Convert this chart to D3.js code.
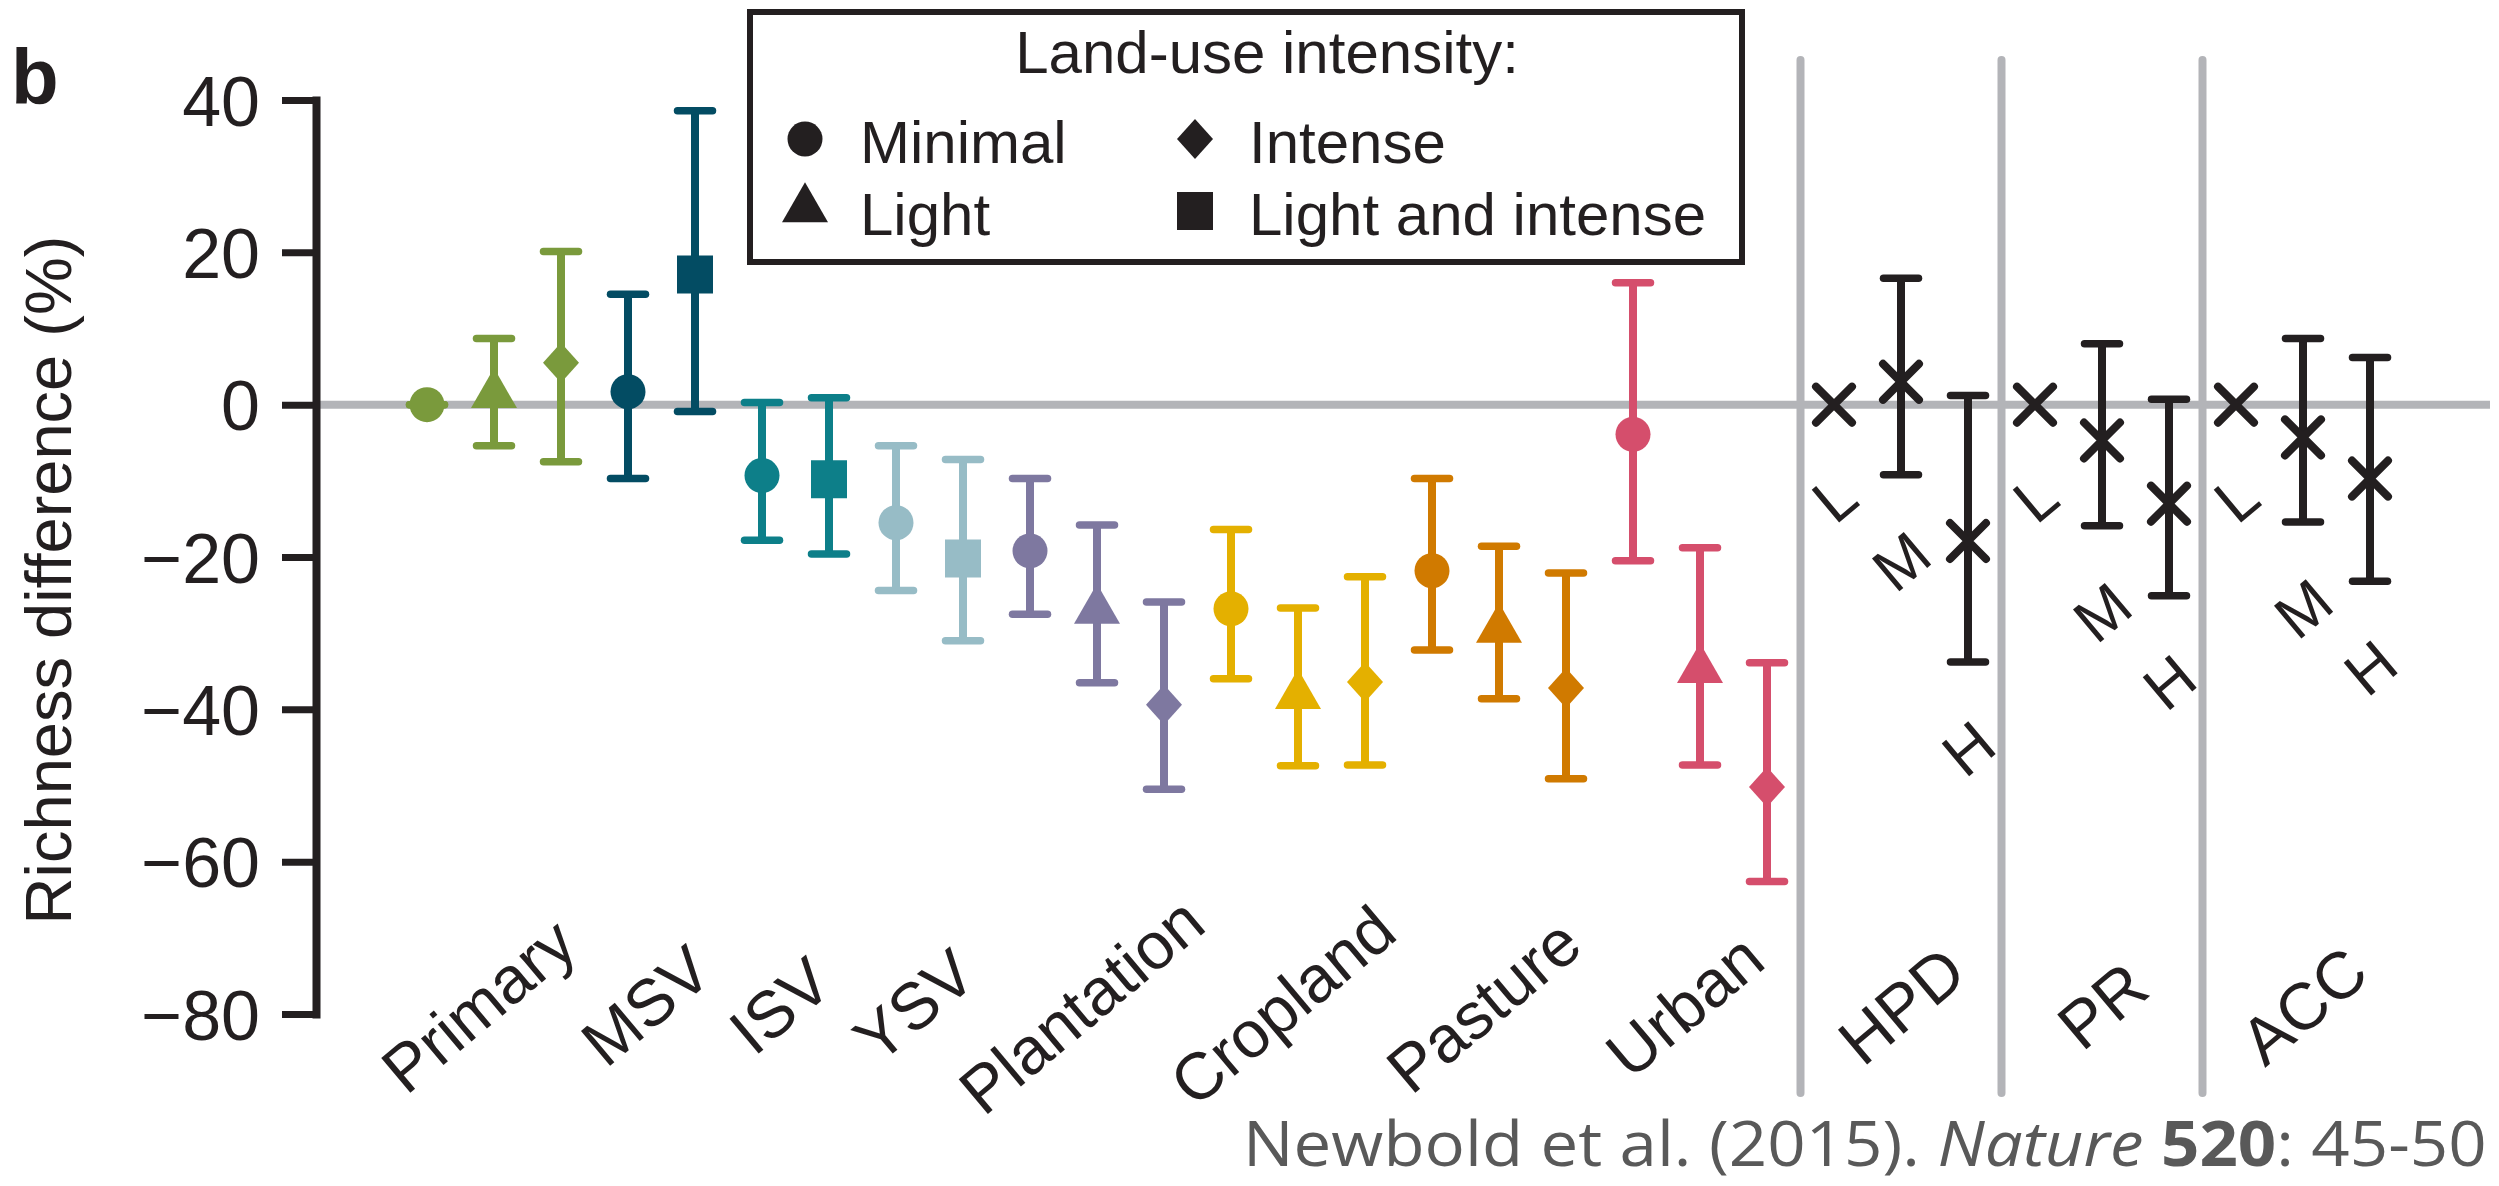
<!DOCTYPE html>
<html>
<head>
<meta charset="utf-8">
<script src="https://cdn.jsdelivr.net/npm/d3@7"></script>
<style>
  body { margin: 0; background: #fff; }
  svg { display: block; }
  text { font-family: "Liberation Sans", Arial, Helvetica, sans-serif; fill: #231f20; }
</style>
</head>
<body>
<svg id="chart" width="2499" height="1186"></svg>
<script>
// Richness difference (%) by land use / intensity, and by the L/M/H levels of three pressures.
const categories = [
  "Primary", "Primary", "Primary",
  "MSV", "MSV",
  "ISV", "ISV",
  "YSV", "YSV",
  "Plantation", "Plantation", "Plantation",
  "Cropland", "Cropland", "Cropland",
  "Pasture", "Pasture", "Pasture",
  "Urban", "Urban", "Urban",
  "HPD", "HPD", "HPD",
  "PR", "PR", "PR",
  "ACC", "ACC", "ACC"
];
const levels = [
  "Minimal", "Light", "Intense",
  "Minimal", "Light and intense",
  "Minimal", "Light and intense",
  "Minimal", "Light and intense",
  "Minimal", "Light", "Intense",
  "Minimal", "Light", "Intense",
  "Minimal", "Light", "Intense",
  "Minimal", "Light", "Intense",
  "L", "M", "H",
  "L", "M", "H",
  "L", "M", "H"
];
const estimate = [
  0, 1.3, 5.5,
  1.7, 17.1,
  -9.3, -9.8,
  -15.5, -20.2,
  -19.2, -27, -39.4,
  -26.8, -38.2, -36.4,
  -21.8, -29.5, -37.2,
  -3.9, -34.8, -50.2,
  0, 3.0, -17.9,
  0, -4.7, -13.0,
  0, -4.3, -9.7
];
const lower = [
  0, -5.4, -7.5,
  -9.7, -0.9,
  -17.8, -19.6,
  -24.4, -31.0,
  -27.5, -36.5, -50.5,
  -36.0, -47.4, -47.3,
  -32.2, -38.6, -49.1,
  -20.5, -47.3, -62.6,
  null, -9.2, -33.8,
  null, -15.9, -25.1,
  null, -15.4, -23.2
];
const upper = [
  0, 8.7, 20.1,
  14.5, 38.6,
  0.3, 0.9,
  -5.4, -7.2,
  -9.7, -15.8, -25.9,
  -16.4, -26.7, -22.6,
  -9.7, -18.6, -22.1,
  16.0, -18.8, -33.9,
  null, 16.6, 1.2,
  null, 8.0, 0.7,
  null, 8.7, 6.2
];
const yTicks = [40, 20, 0, -20, -40, -60, -80];
const pressureGroups = ["HPD", "PR", "ACC"];
const legendLevels = ["Minimal", "Intense", "Light", "Light and intense"];

// Styling
const ink = "#231f20";
const rule = "#b3b4b8";
const groupColor = {
  Primary: "#7a9a3c", MSV: "#034c63", ISV: "#0d7f89", YSV: "#97bcc6",
  Plantation: "#7e78a0", Cropland: "#e4b000", Pasture: "#d07a00", Urban: "#d54e6c",
  HPD: ink, PR: ink, ACC: ink
};

const svg = d3.select("#chart");
svg.append("rect").attr("width", 2499).attr("height", 1186).attr("fill", "#fff");

const slots = d3.range(categories.length);
const x = d3.scalePoint().domain(slots).range([427, 2370]);
const y = d3.scaleLinear().domain([-80, 40]).range([1014, 100]);
const axisX = 316;

// Marker shapes, centred on (0,0)
function shapePath(level, s = 1) {
  if (level === "Light") {
    const w = 46 * s, h = 40 * s;
    return `M0,${-2 * h / 3}L${w / 2},${h / 3}L${-w / 2},${h / 3}Z`;
  }
  if (level === "Intense") {
    const w = 18 * s, h = 20 * s;
    return `M0,${-h}L${w},0L0,${h}L${-w},0Z`;
  }
  if (level === "Light and intense") {
    const w = 18 * s, h = 19 * s;
    return `M${-w},${-h}H${w}V${h}H${-w}Z`;
  }
  if (level === "Minimal") {
    const r = 17.5 * s;
    return `M${r},0A${r},${r} 0 1 1 ${-r},0A${r},${r} 0 1 1 ${r},0Z`;
  }
  const a = 18 * s;
  return `M${-a},${-a}L${a},${a}M${-a},${a}L${a},${-a}`;
}
const isCross = l => l === "L" || l === "M" || l === "H";

// Group separators for the pressure panels
const sepG = svg.append("g");
pressureGroups.forEach(g => {
  const first = categories.indexOf(g);
  const sx = (x(first) + x(first - 1)) / 2;
  sepG.append("line")
    .attr("x1", sx).attr("x2", sx).attr("y1", 60).attr("y2", 1093)
    .attr("stroke", rule).attr("stroke-width", 8).attr("stroke-linecap", "round");
});

// Zero reference line
svg.append("line")
  .attr("x1", axisX).attr("x2", 2490).attr("y1", y(0)).attr("y2", y(0))
  .attr("stroke", rule).attr("stroke-width", 8);

// Y axis
const yAxis = d3.axisLeft(y)
  .tickValues(yTicks)
  .tickSize(34)
  .tickSizeOuter(0)
  .tickPadding(22)
  .tickFormat(d => d < 0 ? "\u2212" + (-d) : String(d));
const ag = svg.append("g").attr("transform", `translate(${axisX},0)`).call(yAxis);
ag.select(".domain").attr("stroke", ink).attr("stroke-width", 8).attr("stroke-linecap", "square");
ag.selectAll(".tick line").attr("stroke", ink).attr("stroke-width", 7);
ag.selectAll(".tick text")
  .attr("fill", ink)
  .style("font-family", '"Liberation Sans", Arial, sans-serif')
  .style("font-size", "70px")
  .attr("dy", "0.36em");

// Axis title
svg.append("text")
  .attr("transform", "translate(71,580) rotate(-90)")
  .attr("text-anchor", "middle")
  .style("font-size", "65px")
  .text("Richness difference (%)");

// Panel letter
svg.append("text")
  .attr("x", 11).attr("y", 104)
  .style("font-size", "78px").style("font-weight", "bold")
  .text("b");

// Error bars and markers
const pts = slots.map(i => ({
  i, cat: categories[i], level: levels[i],
  est: estimate[i], lo: lower[i], hi: upper[i]
}));
const pg = svg.append("g");
pts.forEach(p => {
  const col = groupColor[p.cat];
  const cx = x(p.i);
  const g = pg.append("g");
  if (p.lo !== null && p.hi !== null) {
    g.append("line")
      .attr("x1", cx).attr("x2", cx).attr("y1", y(p.lo)).attr("y2", y(p.hi))
      .attr("stroke", col).attr("stroke-width", 8);
    [p.lo, p.hi].forEach(v => {
      g.append("line")
        .attr("x1", cx - 17.5).attr("x2", cx + 17.5).attr("y1", y(v)).attr("y2", y(v))
        .attr("stroke", col).attr("stroke-width", 7.5).attr("stroke-linecap", "round");
    });
  }
  const m = g.append("path")
    .attr("transform", `translate(${cx},${y(p.est)})`)
    .attr("d", shapePath(p.level));
  if (isCross(p.level)) {
    m.attr("fill", "none").attr("stroke", col).attr("stroke-width", 8).attr("stroke-linecap", "round");
  } else {
    m.attr("fill", col);
  }
});

// L / M / H labels under the pressure estimates
pts.filter(p => isCross(p.level)).forEach(p => {
  const base = p.lo !== null ? y(p.lo) + 86 : y(p.est) + 93;
  svg.append("text")
    .attr("transform", `translate(${x(p.i)},${base}) rotate(-40)`)
    .attr("text-anchor", "middle")
    .attr("dy", "0.36em")
    .style("font-size", "62px")
    .text(p.level);
});

// Category labels
const groups = Array.from(new Set(categories));
groups.forEach(g => {
  const idx = slots.filter(i => categories[i] === g);
  const cx = d3.mean(idx, i => x(i)) + (pressureGroups.includes(g) ? 0 : -16);
  svg.append("text")
    .attr("transform", `translate(${cx},1005) rotate(-40)`)
    .attr("text-anchor", "middle")
    .attr("dy", "0.36em")
    .style("font-size", "66px")
    .text(g);
});

// Legend
const lg = svg.append("g");
lg.append("rect")
  .attr("x", 750).attr("y", 12).attr("width", 992).attr("height", 250)
  .attr("fill", "#fff").attr("stroke", ink).attr("stroke-width", 6);
lg.append("text")
  .attr("x", 1267).attr("y", 73).attr("text-anchor", "middle")
  .style("font-size", "60px")
  .text("Land-use intensity:");
const legendPos = {
  "Minimal": [805, 139, 860, 163],
  "Intense": [1195, 139, 1249, 163],
  "Light": [805, 209, 860, 235],
  "Light and intense": [1195, 211, 1249, 235]
};
legendLevels.forEach(l => {
  const [mx, my, tx, ty] = legendPos[l];
  lg.append("path")
    .attr("transform", `translate(${mx},${my})`)
    .attr("d", shapePath(l))
    .attr("fill", ink);
  lg.append("text")
    .attr("x", tx).attr("y", ty)
    .style("font-size", "60px")
    .text(l);
});

// Citation
const cite = svg.append("text")
  .style("font-family", '"Open Sans", "Noto Sans", sans-serif')
  .style("font-size", "62px")
  .style("fill", "#595959");
cite.append("tspan").text("Newbold et al. (2015). ");
cite.append("tspan").style("font-style", "italic").text("Nature");
cite.append("tspan").text(" ");
cite.append("tspan").style("font-weight", "bold").text("520");
cite.append("tspan").text(": 45-50");
const cw = cite.node().getComputedTextLength();
cite.attr("transform", `translate(1243,1166) scale(${1244 / cw},1)`);
</script>
</body>
</html>
